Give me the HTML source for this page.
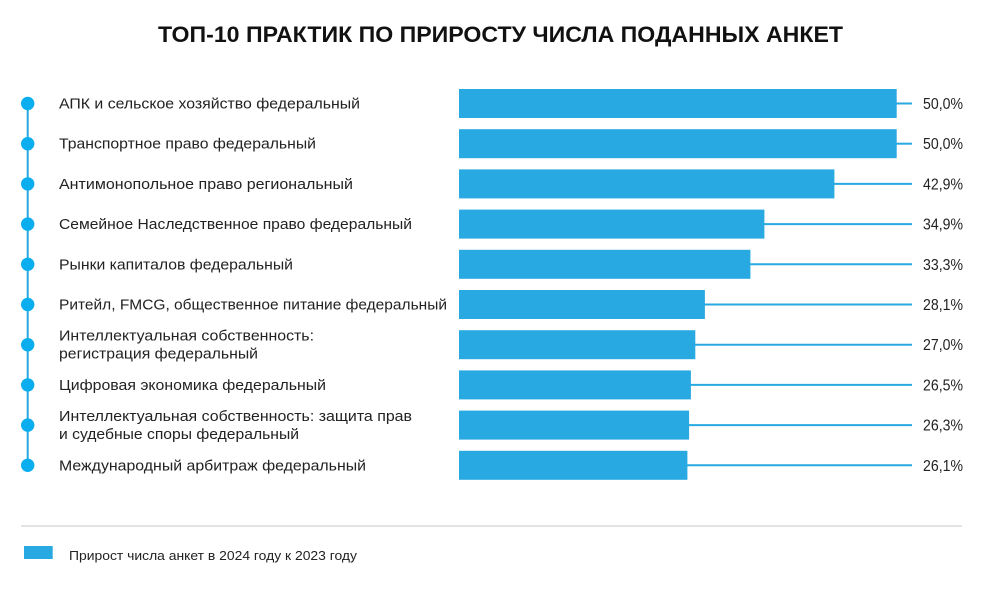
<!DOCTYPE html>
<html><head><meta charset="utf-8"><style>
html,body{margin:0;padding:0;background:#fff;}
svg{display:block;}
text{font-family:"Liberation Sans","DejaVu Sans",sans-serif;fill:#222;}
</style></head><body>
<svg width="1000" height="600" viewBox="0 0 1000 600" xmlns="http://www.w3.org/2000/svg">
<rect width="1000" height="600" fill="#fff"/>
<text x="158" y="42" font-size="22" font-weight="bold" textLength="685" lengthAdjust="spacingAndGlyphs" style="fill:#111">ТОП-10 ПРАКТИК ПО ПРИРОСТУ ЧИСЛА ПОДАННЫХ АНКЕТ</text>

<line x1="27.7" y1="103.5" x2="27.7" y2="465.3" stroke="#29A9E1" stroke-width="2"/>

<g fill="#29A9E1">
<rect x="459" y="89" width="437.7" height="29"/>
<rect x="459" y="129.2" width="437.7" height="29"/>
<rect x="459" y="169.4" width="375.4" height="29"/>
<rect x="459" y="209.6" width="305.4" height="29"/>
<rect x="459" y="249.8" width="291.4" height="29"/>
<rect x="459" y="290" width="245.9" height="29"/>
<rect x="459" y="330.2" width="236.3" height="29"/>
<rect x="459" y="370.4" width="231.9" height="29"/>
<rect x="459" y="410.6" width="230.1" height="29"/>
<rect x="459" y="450.8" width="228.4" height="29"/>
</g>
<g stroke="#29A9E1" stroke-width="2">
<line x1="896" y1="103.5" x2="912" y2="103.5"/>
<line x1="896" y1="143.7" x2="912" y2="143.7"/>
<line x1="834" y1="183.9" x2="912" y2="183.9"/>
<line x1="764" y1="224.1" x2="912" y2="224.1"/>
<line x1="750" y1="264.3" x2="912" y2="264.3"/>
<line x1="704.5" y1="304.5" x2="912" y2="304.5"/>
<line x1="695" y1="344.7" x2="912" y2="344.7"/>
<line x1="690.5" y1="384.9" x2="912" y2="384.9"/>
<line x1="688.5" y1="425.1" x2="912" y2="425.1"/>
<line x1="687" y1="465.3" x2="912" y2="465.3"/>
</g>
<g fill="#0AAEEF">
<circle cx="27.7" cy="103.5" r="6.7"/>
<circle cx="27.7" cy="143.7" r="6.7"/>
<circle cx="27.7" cy="183.9" r="6.7"/>
<circle cx="27.7" cy="224.1" r="6.7"/>
<circle cx="27.7" cy="264.3" r="6.7"/>
<circle cx="27.7" cy="304.5" r="6.7"/>
<circle cx="27.7" cy="344.7" r="6.7"/>
<circle cx="27.7" cy="384.9" r="6.7"/>
<circle cx="27.7" cy="425.1" r="6.7"/>
<circle cx="27.7" cy="465.3" r="6.7"/>
</g>

<g font-size="15">
<text x="59" y="108.5" textLength="301" lengthAdjust="spacingAndGlyphs">АПК и сельское хозяйство федеральный</text>
<text x="59" y="148.7" textLength="257" lengthAdjust="spacingAndGlyphs">Транспортное право федеральный</text>
<text x="59" y="188.9" textLength="294" lengthAdjust="spacingAndGlyphs">Антимонопольное право региональный</text>
<text x="59" y="229.1" textLength="353" lengthAdjust="spacingAndGlyphs">Семейное Наследственное право федеральный</text>
<text x="59" y="269.3" textLength="234" lengthAdjust="spacingAndGlyphs">Рынки капиталов федеральный</text>
<text x="59" y="309.5" textLength="388" lengthAdjust="spacingAndGlyphs">Ритейл, FMCG, общественное питание федеральный</text>
<text x="59" y="340.5" textLength="255" lengthAdjust="spacingAndGlyphs">Интеллектуальная собственность:</text>
<text x="59" y="358.5" textLength="199" lengthAdjust="spacingAndGlyphs">регистрация федеральный</text>
<text x="59" y="389.9" textLength="267" lengthAdjust="spacingAndGlyphs">Цифровая экономика федеральный</text>
<text x="59" y="420.8" textLength="353" lengthAdjust="spacingAndGlyphs">Интеллектуальная собственность: защита прав</text>
<text x="59" y="438.8" textLength="240" lengthAdjust="spacingAndGlyphs">и судебные споры федеральный</text>
<text x="59" y="470.3" textLength="307" lengthAdjust="spacingAndGlyphs">Международный арбитраж федеральный</text>
</g>

<g font-size="16" text-anchor="end">
<text x="963" y="109" textLength="40" lengthAdjust="spacingAndGlyphs">50,0%</text>
<text x="963" y="149.2" textLength="40" lengthAdjust="spacingAndGlyphs">50,0%</text>
<text x="963" y="189.4" textLength="40" lengthAdjust="spacingAndGlyphs">42,9%</text>
<text x="963" y="229.6" textLength="40" lengthAdjust="spacingAndGlyphs">34,9%</text>
<text x="963" y="269.8" textLength="40" lengthAdjust="spacingAndGlyphs">33,3%</text>
<text x="963" y="310" textLength="40" lengthAdjust="spacingAndGlyphs">28,1%</text>
<text x="963" y="350.2" textLength="40" lengthAdjust="spacingAndGlyphs">27,0%</text>
<text x="963" y="390.4" textLength="40" lengthAdjust="spacingAndGlyphs">26,5%</text>
<text x="963" y="430.6" textLength="40" lengthAdjust="spacingAndGlyphs">26,3%</text>
<text x="963" y="470.8" textLength="40" lengthAdjust="spacingAndGlyphs">26,1%</text>
</g>

<line x1="21" y1="526" x2="962" y2="526" stroke="#c8c8c8" stroke-width="1"/>
<rect x="24" y="546" width="28.7" height="13" fill="#29A9E1"/>
<text x="69" y="560" font-size="13" textLength="288" lengthAdjust="spacingAndGlyphs">Прирост числа анкет в 2024 году к 2023 году</text>
</svg>
</body></html>
